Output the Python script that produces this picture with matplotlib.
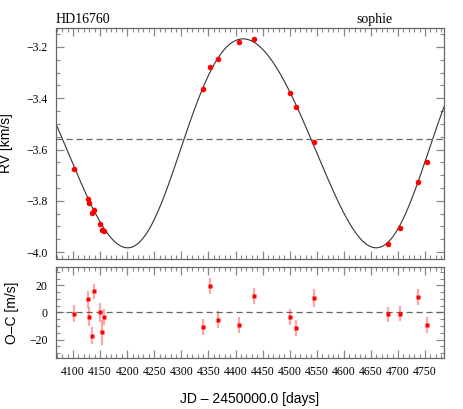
import numpy as np
import matplotlib
matplotlib.use("Agg")
import matplotlib.pyplot as plt
from matplotlib.ticker import MultipleLocator

# RV data (JD - 2450000, km/s)
jd = [4101.0, 4127.1, 4128.9, 4134.8, 4139.6, 4149.9, 4152.6, 4157.0,
      4339.8, 4352.4, 4367.2, 4406.8, 4433.5, 4500.7, 4512.4, 4545.3,
      4681.0, 4703.1, 4737.0, 4753.0]
rv = [-3.674, -3.793, -3.809, -3.848, -3.837, -3.890, -3.915, -3.917,
      -3.365, -3.278, -3.247, -3.179, -3.169, -3.380, -3.436, -3.572,
      -3.968, -3.906, -3.725, -3.649]
# residuals O-C (m/s) and errors
oc = [-0.8, 9.6, -3.2, -17.0, 15.5, 0.2, -14.7, -3.5,
      -10.6, 19.4, -5.2, -9.4, 12.0, -3.2, -11.3, 10.8,
      -1.2, -1.0, 11.5, -9.4]
err = [6.0, 6.0, 7.0, 6.0, 5.5, 7.0, 9.0, 6.0,
       6.0, 6.0, 6.0, 6.0, 6.0, 6.0, 6.0, 6.5,
       5.5, 5.5, 6.0, 6.0]

# Keplerian orbit parameters of the fitted model
P = 459.0
ecc = 0.067
omega = np.radians(-124.0)
K = 0.4075
gamma = -3.5606
t_max = 4414.0

def kepler_rv(t):
    nu0 = -omega
    E0 = 2 * np.arctan(np.sqrt((1 - ecc) / (1 + ecc)) * np.tan(nu0 / 2))
    M0 = E0 - ecc * np.sin(E0)
    Tp = t_max - M0 * P / (2 * np.pi)
    M = 2 * np.pi * (t - Tp) / P
    E = M.copy()
    for i in range(50):
        E = E - (E - ecc * np.sin(E) - M) / (1 - ecc * np.cos(E))
    nu = 2 * np.arctan2(np.sqrt(1 + ecc) * np.sin(E / 2), np.sqrt(1 - ecc) * np.cos(E / 2))
    return gamma + K * (np.cos(nu + omega) + ecc * np.cos(omega))

serif = "Liberation Serif"
sans = "Liberation Sans"
plt.rcParams['font.family'] = serif
plt.rcParams['font.size'] = 8.5

fig = plt.figure(figsize=(4.63, 4.09), dpi=100)
ax1 = fig.add_axes([0.121, 0.3667, 0.838, 0.5648])
ax2 = fig.add_axes([0.121, 0.1247, 0.838, 0.2225])

xmin, xmax = 4068.6, 4785.0
tt = np.linspace(xmin, xmax, 1500)

ax1.plot(tt, kepler_rv(tt), color='#333333', lw=0.8)
ax1.axhline(gamma, color='#666666', lw=0.9, ls=(0, (5, 3)))
ax1.plot(jd, rv, 'o', color='red', ms=4, mec='none')
ax1.set_xlim(xmin, xmax)
ax1.set_ylim(-4.027, -3.126)
ax1.yaxis.set_major_locator(MultipleLocator(0.2))
ax1.yaxis.set_minor_locator(MultipleLocator(0.05))
ax1.set_ylabel('RV [km/s]', family=sans, fontsize=10)
ax1.yaxis.set_label_coords(-0.111, 0.5)
ax1.set_xticklabels([])
ax1.text(0.0, 1.01, 'HD16760', transform=ax1.transAxes, ha='left', va='bottom',
         fontsize=10, family=serif)
ax1.text(0.866, 1.01, 'sophie', transform=ax1.transAxes, ha='right', va='bottom',
         fontsize=10, family=serif)

ax2.axhline(0, color='#666666', lw=0.9, ls=(0, (5, 3)))
ax2.errorbar(jd, oc, yerr=err, fmt='none', ecolor='red', alpha=0.35, elinewidth=1.6)
ax2.plot(jd, oc, 's', color='red', ms=2.5, mec='none')
ax2.set_xlim(xmin, xmax)
ax2.set_ylim(-33.5, 33.5)
ax2.yaxis.set_major_locator(MultipleLocator(20))
ax2.yaxis.set_minor_locator(MultipleLocator(5))
ax2.set_ylabel('O\u2013C [m/s]', family=sans, fontsize=10)
ax2.yaxis.set_label_coords(-0.095, 0.5)
ax2.set_xlabel('JD \u2013 2450000.0 [days]', family=sans, fontsize=10, labelpad=10)

for ax in (ax1, ax2):
    ax.xaxis.set_major_locator(MultipleLocator(50))
    ax.xaxis.set_minor_locator(MultipleLocator(10))
    ax.tick_params(which='both', direction='in', top=True, right=True, color='#888888')
    ax.tick_params(which='major', length=6, width=0.9, pad=6)
    ax.tick_params(which='minor', length=3, width=0.8)
    for s in ax.spines.values():
        s.set_color('#666666')
        s.set_linewidth(0.9)

fig.savefig('out.png', dpi=100)
